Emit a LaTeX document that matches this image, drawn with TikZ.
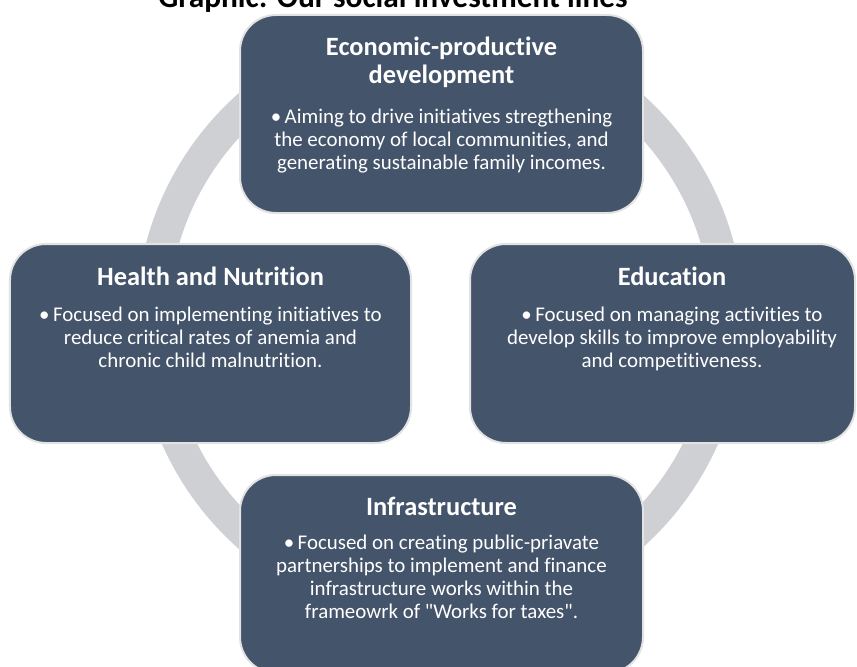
\documentclass[tikz,border=0pt]{standalone}
\usepackage{fontspec}
\setmainfont{Carlito}[Ligatures={TeX,NoCommon}]
\usetikzlibrary{positioning}
\definecolor{slate}{HTML}{44546A}
\definecolor{ringgray}{HTML}{CFD0D4}
\definecolor{rim}{HTML}{E2E2E2}
\tikzset{
    linebox/.style={rectangle,rounded corners=36bp,fill=slate,draw=rim,line width=2bp,inner sep=0pt},
    head/.style={anchor=north,inner sep=0pt,text=white,align=center,font=\bfseries\fontsize{26.5}{28}\selectfont},
    body/.style={anchor=north,inner sep=0pt,text=white,align=center,font=\fontsize{21}{23}\selectfont},
    title/.style={anchor=base,inner sep=0pt,font=\bfseries\fontsize{31.5}{34}\selectfont}
}

\begin{document}
\begin{tikzpicture}[x=1bp,y=-1bp]
    \useasboundingbox (0,0) rectangle (857,667);
    \clip (0,0) rectangle (857,667);
    \node[title] (caption) at (393,8) {Graphic: Our social investment lines};
    % the ring behind the four boxes
    \draw[ringgray,line width=32bp] (440,321) circle (288bp);
    \node[linebox,minimum width=403bp,minimum height=198bp] (econ)   at (441.5,114)   {};
    \node[linebox,minimum width=401bp,minimum height=199bp] (health) at (210.5,343.5) {};
    \node[linebox,minimum width=385bp,minimum height=199bp] (educ)   at (662.5,343.5) {};
    \node[linebox,minimum width=403bp,minimum height=198bp] (infra)  at (441.5,574)   {};
    % headings and bullets
    \node[head,below=23bp of econ.north] (econhead) {Economic-productive\\development};
    \node[body,below=95bp of econ.north] (econtext)
        {•\,Aiming to drive initiatives stregthening\\the economy of local communities, and\\generating sustainable family incomes.};
    \node[head,below=23.5bp of health.north] (healthhead) {Health and Nutrition};
    \node[body,below=64bp of health.north] (healthtext)
        {•\,Focused on implementing initiatives to\\reduce critical rates of anemia and\\chronic child malnutrition.};
    \node[head,below=23.5bp of educ.north,xshift=9.5bp] (educhead) {Education};
    \node[body,below=64bp of educ.north,xshift=9.5bp] (eductext)
        {•\,Focused on managing activities to\\develop skills to improve employability\\and competitiveness.};
    \node[head,below=23bp of infra.north] (infrahead) {Infrastructure};
    \node[body,below=61bp of infra.north] (infratext)
        {•\,Focused on creating public-priavate\\partnerships to implement and finance\\infrastructure works within the\\frameowrk of \textquotedbl Works for taxes\textquotedbl.};
\end{tikzpicture}
\end{document}
